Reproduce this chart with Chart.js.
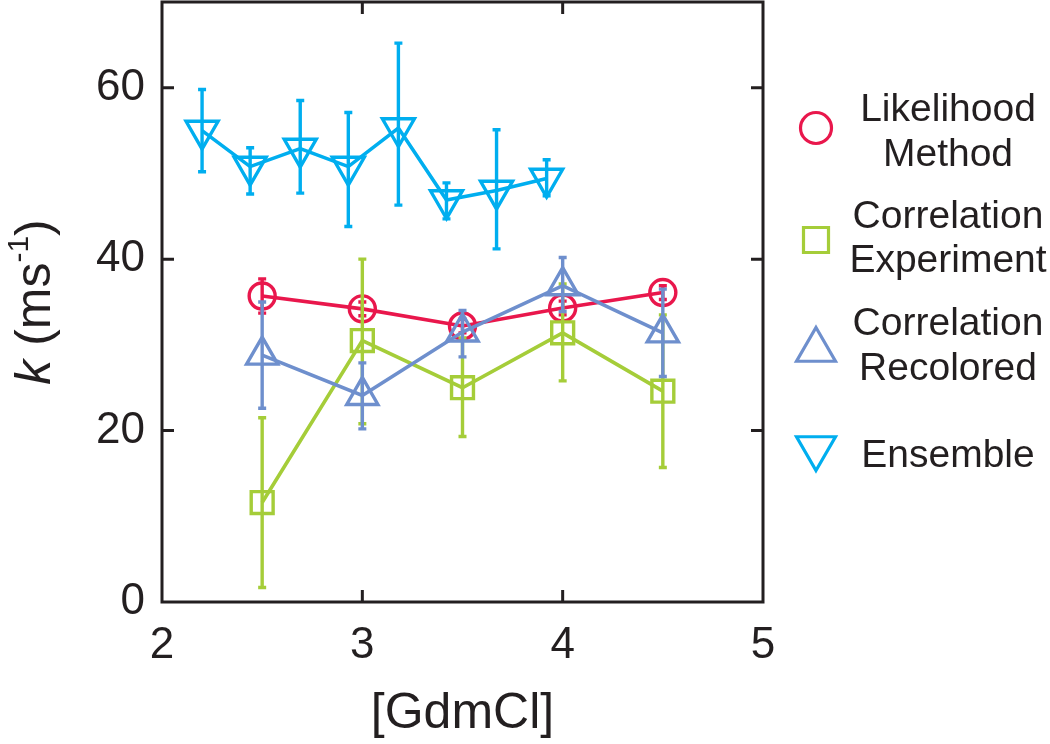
<!DOCTYPE html>
<html>
<head>
<meta charset="utf-8">
<script src="https://cdn.jsdelivr.net/npm/chart.js@4.4.1/dist/chart.umd.min.js"></script>
<style>
  html, body { margin: 0; padding: 0; background: #fff; }
  canvas { display: block; }
</style>
</head>
<body>
<canvas id="k-chart" width="1050" height="744"></canvas>
<script>
// --- values ---
const gdmX = [2.5, 3.0, 3.5, 4.0, 4.5];
const ensembleX = [2.2, 2.44, 2.69, 2.93, 3.18, 3.42, 3.67, 3.92];

const likelihoodK = [35.7, 34.2, 32.2, 34.3, 36.1];
const likelihoodHi = [37.7, 35.0, 33.0, 35.1, 36.9];
const likelihoodLo = [33.7, 33.4, 31.4, 33.5, 35.3];

const experimentK = [11.6, 30.5, 25.0, 31.4, 24.6];
const experimentHi = [21.5, 40.0, 30.8, 37.1, 33.5];
const experimentLo = [1.7, 20.8, 19.3, 25.8, 15.7];

const recoloredK = [28.8, 24.1, 31.5, 36.9, 31.4];
const recoloredHi = [35.0, 27.9, 34.0, 40.2, 36.5];
const recoloredLo = [22.6, 20.2, 28.6, 33.9, 26.3];

const ensembleK = [55.0, 50.8, 52.9, 50.8, 55.3, 46.9, 48.0, 49.4];
const ensembleHi = [59.8, 53.0, 58.5, 57.1, 65.2, 48.9, 55.1, 51.6];
const ensembleLo = [50.2, 47.6, 47.7, 43.8, 46.3, 44.7, 41.2, 47.4];

const seriesNames = [['Likelihood', 'Method'], ['Correlation', 'Experiment'], ['Correlation', 'Recolored'], ['Ensemble']];
const xTitle = '[GdmCl]';

const RED = '#E9174C';
const GREEN = '#A5CD39';
const BLUE = '#6E8FCD';
const CYAN = '#00AEEF';
const INK = '#231F20';
const FONT = "'Liberation Sans', Arial, Helvetica, sans-serif";

function pts(xs, ys) {
  return xs.map((x, i) => ({ x: x, y: ys[i] }));
}

// --- error bars, drawn just before each series so marker order matches ---
const errorBars = {
  id: 'errorBars',
  beforeDatasetDraw(chart, args) {
    const ds = chart.data.datasets[args.index];
    if (!ds.errHi) return;
    const xs = chart.scales.x, ys = chart.scales.y, ctx = chart.ctx;
    ctx.save();
    ctx.strokeStyle = ds.borderColor;
    ctx.lineWidth = 3.4;
    ds.data.forEach((p, i) => {
      const px = xs.getPixelForValue(p.x);
      const top = ys.getPixelForValue(ds.errHi[i]);
      const bot = ys.getPixelForValue(ds.errLo[i]);
      ctx.beginPath();
      ctx.moveTo(px, top); ctx.lineTo(px, bot);
      ctx.moveTo(px - 4, top); ctx.lineTo(px + 4, top);
      ctx.moveTo(px - 4, bot); ctx.lineTo(px + 4, bot);
      ctx.stroke();
    });
    ctx.restore();
  }
};

// --- box frame with inward ticks on all four sides ---
const frame = {
  id: 'frame',
  afterDatasetsDraw(chart) {
    const { ctx, chartArea: a, scales: { x, y } } = chart;
    ctx.save();
    ctx.strokeStyle = INK;
    ctx.lineWidth = 3;
    ctx.beginPath();
    y.ticks.forEach(t => {
      const py = y.getPixelForValue(t.value);
      if (py <= a.top + 2 || py >= a.bottom - 2) return;
      ctx.moveTo(a.left, py); ctx.lineTo(a.left + 12, py);
      ctx.moveTo(a.right, py); ctx.lineTo(a.right - 12, py);
    });
    x.ticks.forEach(t => {
      const px = x.getPixelForValue(t.value);
      if (px <= a.left + 2 || px >= a.right - 2) return;
      ctx.moveTo(px, a.bottom); ctx.lineTo(px, a.bottom - 12);
      ctx.moveTo(px, a.top); ctx.lineTo(px, a.top + 12);
    });
    ctx.stroke();
    ctx.lineJoin = 'miter';
    ctx.strokeRect(a.left, a.top, a.right - a.left, a.bottom - a.top);
    ctx.restore();
  }
};

// --- y title: italic k with a superscript unit ---
const yTitle = {
  id: 'yTitle',
  afterDraw(chart) {
    const { ctx, chartArea: a } = chart;
    const parts = [
      { t: 'k', f: 'italic 50px ' + FONT, dy: 0 },
      { t: ' (ms', f: '50px ' + FONT, dy: 0 },
      { t: '-1', f: '30px ' + FONT, dy: -22 },
      { t: ')', f: '50px ' + FONT, dy: 0 }
    ];
    let w = 0;
    parts.forEach(p => { ctx.font = p.f; p.w = ctx.measureText(p.t).width; w += p.w; });
    ctx.save();
    ctx.translate(50, (a.top + a.bottom) / 2);
    ctx.rotate(-Math.PI / 2);
    ctx.fillStyle = INK;
    ctx.textBaseline = 'alphabetic';
    let cx = -w / 2;
    parts.forEach(p => { ctx.font = p.f; ctx.fillText(p.t, cx, p.dy); cx += p.w; });
    ctx.restore();
  }
};

// --- legend on the right, symbols + centred two-line labels ---
function drawSymbol(ctx, kind, x, y, r) {
  ctx.beginPath();
  if (kind === 'circle') {
    ctx.arc(x, y, r, 0, Math.PI * 2);
  } else if (kind === 'rect') {
    ctx.rect(x - r, y - r, 2 * r, 2 * r);
  } else {
    const s = kind === 'up' ? 1 : -1;
    ctx.moveTo(x, y - s * r);
    ctx.lineTo(x + r * Math.sin(Math.PI / 3), y + s * r / 2);
    ctx.lineTo(x - r * Math.sin(Math.PI / 3), y + s * r / 2);
    ctx.closePath();
  }
  ctx.stroke();
}

const sideLegend = {
  id: 'sideLegend',
  afterDraw(chart) {
    const ctx = chart.ctx;
    const entries = [
      { kind: 'circle', color: RED, sy: 128, r: 15.5, base: [121, 166] },
      { kind: 'rect', color: GREEN, sy: 240, r: 12.5, base: [228, 272] },
      { kind: 'up', color: BLUE, sy: 350, r: 22.5, base: [335, 380] },
      { kind: 'down', color: CYAN, sy: 448, r: 22.5, base: [467] }
    ];
    ctx.save();
    ctx.lineWidth = 3.2;
    ctx.font = '39px ' + FONT;
    ctx.textAlign = 'center';
    ctx.textBaseline = 'alphabetic';
    entries.forEach((e, i) => {
      ctx.strokeStyle = e.color;
      drawSymbol(ctx, e.kind, 816, e.sy, e.r);
      ctx.fillStyle = INK;
      seriesNames[i].forEach((line, j) => ctx.fillText(line, 948, e.base[j]));
    });
    ctx.restore();
  }
};

function series(data, color, style, radius, rotation, hi, lo, order) {
  return {
    data: data,
    showLine: true,
    borderColor: color,
    borderWidth: 3.6,
    pointStyle: style,
    pointRadius: radius,
    pointRotation: rotation,
    pointBorderWidth: 3.4,
    pointBorderColor: color,
    pointBackgroundColor: 'rgba(0,0,0,0)',
    fill: false,
    tension: 0,
    clip: false,
    errHi: hi,
    errLo: lo,
    order: order
  };
}

new Chart(document.getElementById('k-chart'), {
  type: 'scatter',
  data: {
    datasets: [
      series(pts(gdmX, likelihoodK), RED, 'circle', 13, 0, likelihoodHi, likelihoodLo, 4),
      series(pts(gdmX, experimentK), GREEN, 'rect', 15.5, 0, experimentHi, experimentLo, 3),
      series(pts(gdmX, recoloredK), BLUE, 'triangle', 18, 0, recoloredHi, recoloredLo, 2),
      series(pts(ensembleX, ensembleK), CYAN, 'triangle', 18.5, 180, ensembleHi, ensembleLo, 1)
    ]
  },
  options: {
    responsive: false,
    animation: false,
    devicePixelRatio: 1,
    layout: { autoPadding: false, padding: { top: 2, right: 287, left: 0, bottom: 0 } },
    plugins: { legend: { display: false }, tooltip: { enabled: false } },
    scales: {
      x: {
        type: 'linear',
        min: 2, max: 5,
        grid: { display: false, drawTicks: false },
        border: { display: false },
        ticks: { stepSize: 1, color: INK, padding: 17, font: { family: FONT, size: 44 } },
        title: { display: true, text: xTitle, color: INK, font: { family: FONT, size: 50 }, padding: { top: 0, bottom: 0 } },
        afterFit(s) { s.height = 142; s.paddingLeft = 0; s.paddingRight = 0; }
      },
      y: {
        min: 0, max: 70,
        grid: { display: false, drawTicks: false },
        border: { display: false },
        ticks: {
          stepSize: 10, color: INK, padding: 17, font: { family: FONT, size: 44 },
          callback: v => (v % 20 === 0 ? v : null)
        },
        afterFit(s) { s.width = 162; s.paddingTop = 0; s.paddingBottom = 0; }
      }
    }
  },
  plugins: [errorBars, frame, yTitle, sideLegend]
});
</script>
</body>
</html>
